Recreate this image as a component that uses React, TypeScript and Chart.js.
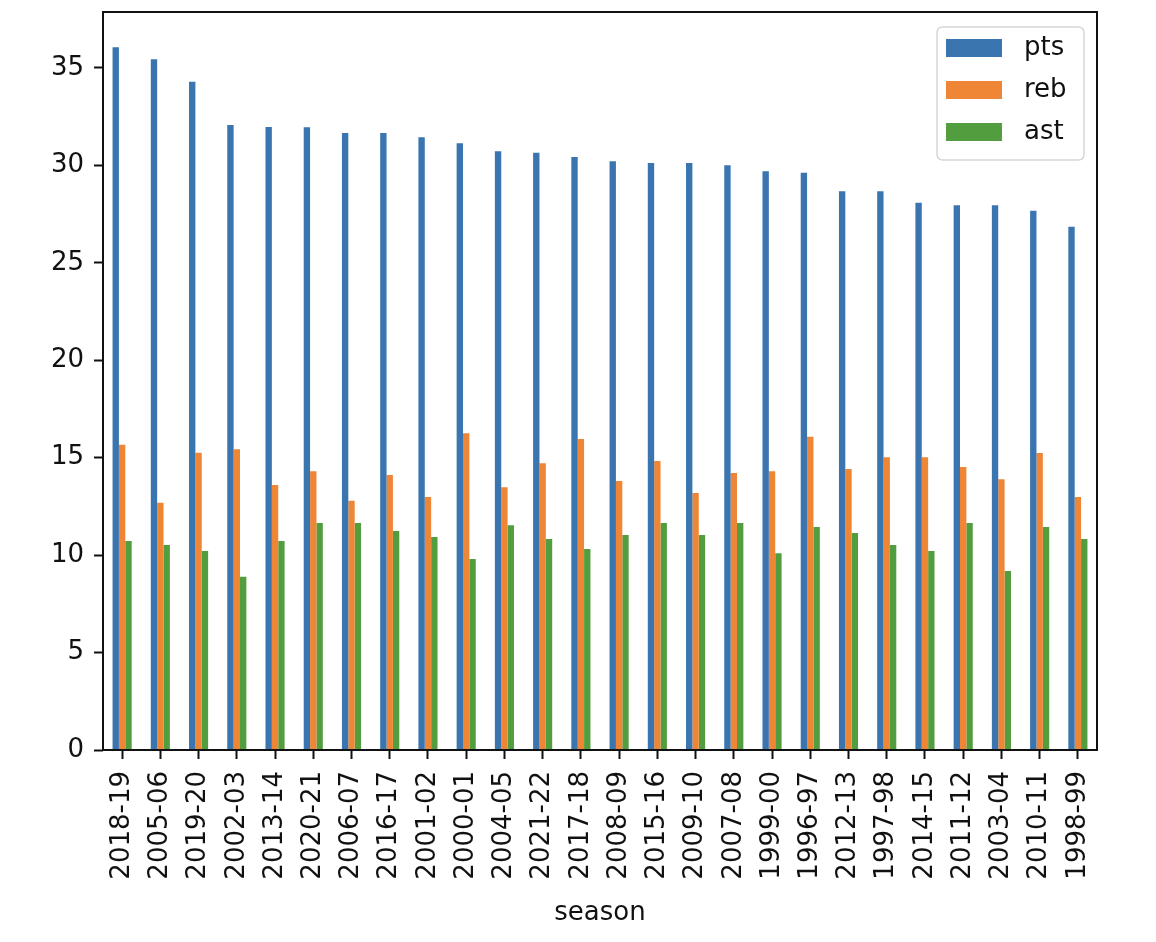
import React, { useEffect, useRef } from "react";
import { Chart, registerables } from "chart.js";

Chart.register(...registerables);

const seasons = [
  "2018-19", "2005-06", "2019-20", "2002-03", "2013-14", "2020-21", "2006-07",
  "2016-17", "2001-02", "2000-01", "2004-05", "2021-22", "2017-18", "2008-09",
  "2015-16", "2009-10", "2007-08", "1999-00", "1996-97", "2012-13", "1997-98",
  "2014-15", "2011-12", "2003-04", "2010-11", "1998-99",
];

const pts = [
  36.07, 35.45, 34.3, 32.07, 31.97, 31.96, 31.66, 31.66, 31.45, 31.14, 30.73,
  30.65, 30.43, 30.22, 30.13, 30.13, 30.01, 29.7, 29.62, 28.68, 28.68, 28.08,
  27.96, 27.96, 27.67, 26.85,
];

const reb = [
  15.67, 12.69, 15.26, 15.44, 13.6, 14.31, 12.79, 14.11, 12.98, 16.26, 13.49,
  14.72, 15.96, 13.8, 14.83, 13.19, 14.21, 14.31, 16.08, 14.42, 15.03, 15.03,
  14.52, 13.9, 15.24, 12.98,
];

const ast = [
  10.72, 10.52, 10.21, 8.89, 10.72, 11.65, 11.65, 11.24, 10.93, 9.8, 11.54,
  10.83, 10.31, 11.03, 11.65, 11.03, 11.65, 10.1, 11.44, 11.13, 10.52, 10.21,
  11.65, 9.18, 11.44, 10.83,
];

const yTickStep = 5;
const seriesNames = ["pts", "reb", "ast"];
const seriesColors = ["#3a75af", "#ef8636", "#529e3f"];

const FONT = "'DejaVu Sans', sans-serif";
const FS = 26;

const framePlugin = {
  id: "frame",
  afterDatasetsDraw(chart: any) {
    const { ctx, chartArea } = chart;
    ctx.save();
    ctx.strokeStyle = "#111";
    ctx.lineWidth = 2;
    ctx.strokeRect(
      chartArea.left,
      chartArea.top,
      chartArea.right - chartArea.left,
      chartArea.bottom - chartArea.top
    );
    ctx.restore();
  },
};

const legendPlugin = {
  id: "mplLegend",
  afterDraw(chart: any) {
    const { ctx, chartArea } = chart;
    const boxW = 147;
    const boxH = 133;
    const right = chartArea.right - 13;
    const top = chartArea.top + 15;
    const left = right - boxW;
    ctx.save();
    const r = 6;
    ctx.beginPath();
    ctx.moveTo(left + r, top);
    ctx.lineTo(left + boxW - r, top);
    ctx.quadraticCurveTo(left + boxW, top, left + boxW, top + r);
    ctx.lineTo(left + boxW, top + boxH - r);
    ctx.quadraticCurveTo(left + boxW, top + boxH, left + boxW - r, top + boxH);
    ctx.lineTo(left + r, top + boxH);
    ctx.quadraticCurveTo(left, top + boxH, left, top + boxH - r);
    ctx.lineTo(left, top + r);
    ctx.quadraticCurveTo(left, top, left + r, top);
    ctx.closePath();
    ctx.fillStyle = "rgba(255,255,255,0.8)";
    ctx.fill();
    ctx.strokeStyle = "#d6d6d6";
    ctx.lineWidth = 1.5;
    ctx.stroke();

    ctx.font = `${FS}px ${FONT}`;
    ctx.textBaseline = "middle";
    ctx.textAlign = "left";
    chart.data.datasets.forEach((ds: any, i: number) => {
      const cy = top + 21 + i * 42;
      ctx.fillStyle = ds.backgroundColor;
      ctx.fillRect(left + 9, cy - 9, 56, 18);
      ctx.fillStyle = "#111";
      ctx.fillText(ds.label, left + 87, cy);
    });
    ctx.restore();
  },
};

export default function App() {
  const ref = useRef<HTMLCanvasElement | null>(null);

  useEffect(() => {
    if (!ref.current) return;
    const yMax = Math.max(...pts) * 1.05;
    const chart = new Chart(ref.current, {
      type: "bar",
      data: {
        labels: seasons,
        datasets: [pts, reb, ast].map((values, i) => ({
          label: seriesNames[i],
          data: values,
          backgroundColor: seriesColors[i],
          borderWidth: 0,
          categoryPercentage: 0.5,
          barPercentage: 1.0,
        })),
      },
      options: {
        responsive: false,
        animation: false,
        devicePixelRatio: 1,
        layout: { padding: { left: 0, top: 0, right: 59, bottom: 0 } },
        plugins: {
          legend: { display: false },
          tooltip: { enabled: false },
        },
        scales: {
          x: {
            offset: true,
            grid: {
              display: true,
              drawOnChartArea: false,
              drawTicks: true,
              tickLength: 9,
              tickWidth: 2,
              tickColor: "#111",
              offset: false,
            },
            border: { display: false },
            ticks: {
              autoSkip: false,
              minRotation: 90,
              maxRotation: 90,
              padding: 12,
              color: "#111",
              font: { family: FONT, size: FS },
            },
            title: {
              display: true,
              text: "season",
              color: "#111",
              font: { family: FONT, size: FS },
              padding: { top: 0, bottom: 13 },
            },
            afterFit(scale: any) {
              scale.height = 192;
              scale.paddingLeft = 0;
              scale.paddingRight = 0;
            },
          },
          y: {
            min: 0,
            max: yMax,
            grid: {
              display: true,
              drawOnChartArea: false,
              drawTicks: true,
              tickLength: 9,
              tickWidth: 2,
              tickColor: "#111",
            },
            border: { display: false },
            ticks: {
              stepSize: yTickStep,
              includeBounds: false,
              padding: 10,
              color: "#111",
              font: { family: FONT, size: FS },
            },
            afterFit(scale: any) {
              scale.width = 103;
              scale.paddingTop = 12;
              scale.paddingBottom = 0;
            },
          },
        },
      },
      plugins: [framePlugin, legendPlugin],
    });
    return () => chart.destroy();
  }, []);

  return (
    <div style={{ position: "absolute", left: 0, top: 0, width: 1156, height: 942, background: "#fff" }}>
      <canvas ref={ref} width={1156} height={942} style={{ display: "block", width: 1156, height: 942 }} />
    </div>
  );
}
